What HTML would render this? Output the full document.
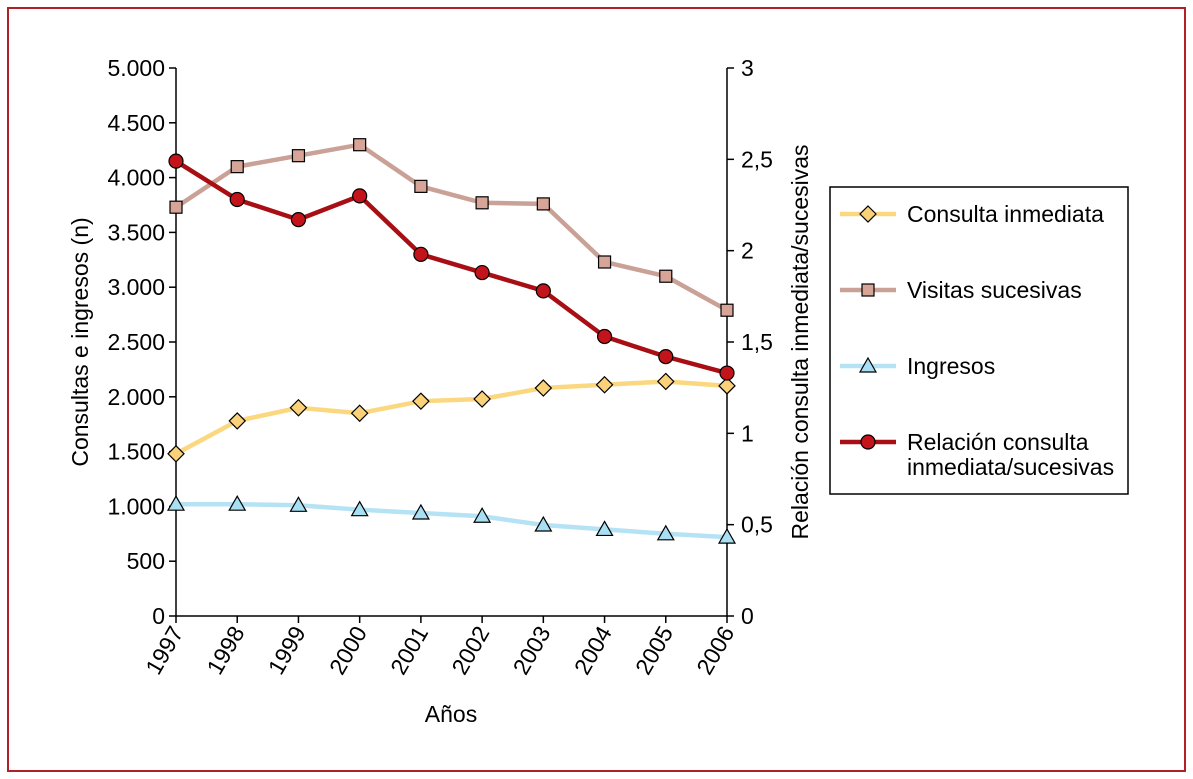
<!DOCTYPE html>
<html><head><meta charset="utf-8"><style>
html,body{margin:0;padding:0;background:#fff;}
svg{display:block;font-family:"Liberation Sans Narrow","Liberation Sans",sans-serif;}
</style></head><body>
<svg id="chart" width="1193" height="779" viewBox="0 0 1193 779">
<rect x="8" y="8" width="1177" height="763" fill="#fff" stroke="#b21f24" stroke-width="2"/>
</svg>
<script>
const years=["1997","1998","1999","2000","2001","2002","2003","2004","2005","2006"];
const consulta=[1480,1780,1900,1850,1960,1980,2080,2110,2140,2100];
const visitas=[3730,4100,4200,4300,3920,3770,3760,3230,3100,2790];
const ingresos=[1020,1020,1010,970,940,910,830,790,750,720];
const relacion=[2.49,2.28,2.17,2.30,1.98,1.88,1.78,1.53,1.42,1.33];
const leftTicks=["0","500","1.000","1.500","2.000","2.500","3.000","3.500","4.000","4.500","5.000"];
const rightTicks=["0","0,5","1","1,5","2","2,5","3"];
const NS="http://www.w3.org/2000/svg";
const svg=document.getElementById('chart');
const X0=176,X1=727,Y0=616,Y1=68;
const x=i=>X0+(X1-X0)*i/(years.length-1);
const yL=v=>Y0-(Y0-Y1)*v/5000;
const yR=v=>Y0-(Y0-Y1)*v/3;
function el(t,a,p){const e=document.createElementNS(NS,t);for(const k in a)e.setAttribute(k,a[k]);(p||svg).appendChild(e);return e;}
function txt(s,a){const e=el('text',a);e.textContent=s;return e;}
// axes
let ax=el('line',{x1:X0,y1:Y1,x2:X0,y2:Y0,stroke:'#000','stroke-width':1.5});

ax=el('line',{x1:X1,y1:Y1,x2:X1,y2:Y0,stroke:'#000','stroke-width':1.5});

ax=el('line',{x1:X0,y1:Y0,x2:X1,y2:Y0,stroke:'#000','stroke-width':1.5});

leftTicks.forEach((t,i)=>{const y=yL(i*500);
 el('line',{x1:X0-7,y1:y,x2:X0,y2:y,stroke:'#000','stroke-width':1.5});
 const e=txt(t,{x:X0-11,y:y+8,'text-anchor':'end','font-size':23});
 });
rightTicks.forEach((t,i)=>{const y=yR(i*0.5);
 el('line',{x1:X1,y1:y,x2:X1+7,y2:y,stroke:'#000','stroke-width':1.5});
 const e=txt(t,{x:X1+14,y:y+8,'font-size':23});
 });
years.forEach((t,i)=>{const xx=x(i);
 el('line',{x1:xx,y1:Y0,x2:xx,y2:Y0+7,stroke:'#000','stroke-width':1.5});
 const e=txt(t,{x:xx+8,y:Y0+16,'text-anchor':'end','font-size':23,transform:`rotate(-60 ${xx+8} ${Y0+16})`});
 });
let t=txt('Años',{x:451,y:722,'text-anchor':'middle','font-size':23});

t=txt('Consultas e ingresos (n)',{x:88,y:342,'text-anchor':'middle','font-size':23,transform:'rotate(-90 88 342)'});

t=txt('Relación consulta inmediata/sucesivas',{x:808,y:342,'text-anchor':'middle','font-size':23,transform:'rotate(-90 808 342)'});

function marker(type,cx,cy,fill,name){let m;
 if(type==='d')m=el('polygon',{points:`${cx},${cy-8} ${cx+8},${cy} ${cx},${cy+8} ${cx-8},${cy}`,fill,stroke:'#000','stroke-width':1.2});
 else if(type==='s')m=el('rect',{x:cx-6,y:cy-6,width:12,height:12,fill,stroke:'#000','stroke-width':1.2});
 else if(type==='t')m=el('polygon',{points:`${cx},${cy-8} ${cx+8},${cy+6} ${cx-8},${cy+6}`,fill,stroke:'#000','stroke-width':1.2});
 else m=el('circle',{cx,cy,r:7,fill,stroke:'#000','stroke-width':1.2});
 }
function series(vals,yf,color,mfill,type,name){
 const p=el('polyline',{points:vals.map((v,i)=>x(i)+','+yf(v)).join(' '),fill:'none',stroke:color,'stroke-width':4.5});
 
 vals.forEach((v,i)=>marker(type,x(i),yf(v),mfill,name+'-point'));}
series(ingresos,yL,'#b5e3f5','#a8dff2','t','ingresos');
series(consulta,yL,'#fbd87f','#fbd27a','d','consulta-inmediata');
series(visitas,yL,'#c9a196','#d6a598','s','visitas-sucesivas');
series(relacion,yR,'#a80f14','#c3141b','c','relacion');
// legend
const lg=el('rect',{x:830,y:187,width:298,height:307,fill:'#fff',stroke:'#000','stroke-width':1.5});

const leg=[['Consulta inmediata','#fbd87f','#fbd27a','d',214],['Visitas sucesivas','#c9a196','#d6a598','s',290],['Ingresos','#b5e3f5','#a8dff2','t',366],['Relación consulta','#a80f14','#c3141b','c',442]];
leg.forEach(l=>{const ln=el('line',{x1:840,y1:l[4],x2:896,y2:l[4],stroke:l[1],'stroke-width':4.5});
 
 marker(l[3],868,l[4],l[2],'legend-marker');
 const e=txt(l[0],{x:907,y:l[4]+8,'font-size':23});
 });
t=txt('inmediata/sucesivas',{x:907,y:475,'font-size':23});

</script>
</body></html>
